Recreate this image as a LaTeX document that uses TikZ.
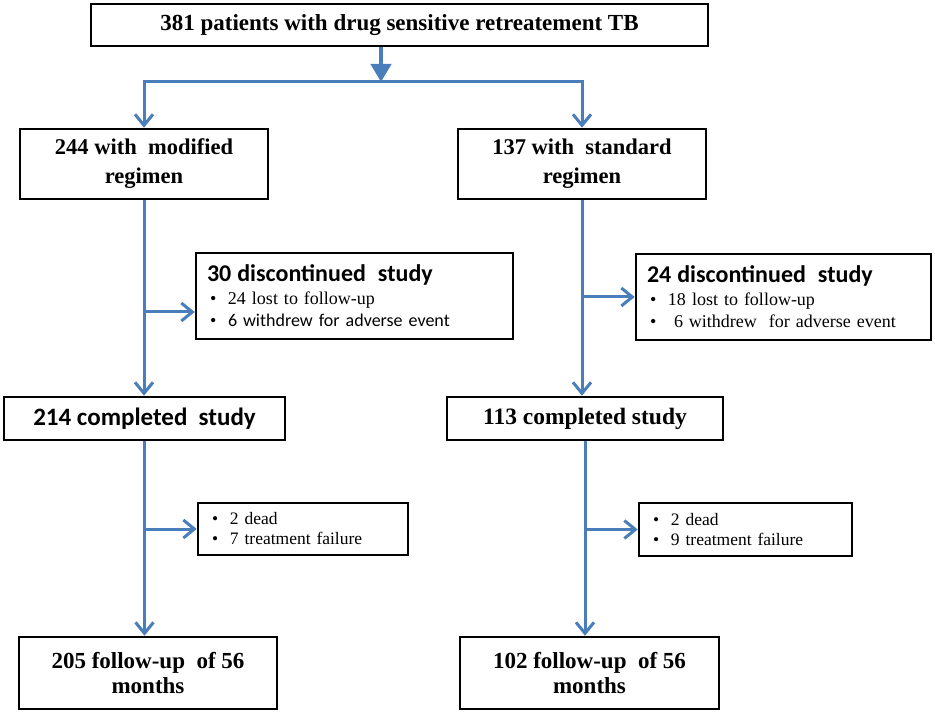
\documentclass[tikz,border=0pt]{standalone}
\usepackage{fontspec}
\usepackage{tikz}
\usetikzlibrary{arrows.meta}
\setmainfont{Liberation Serif}
\newfontfamily\calibri{Carlito}
\definecolor{flowblue}{RGB}{74,126,187}
\newcommand\flowitem[1]{\makebox[18pt][l]{\textbullet}#1}

\begin{document}
\begin{tikzpicture}[x=1pt, y=-1pt,
		box/.style = {draw, line width=2.6pt, inner sep=0pt, align=center},
		note/.style = {box, align=left, inner xsep=11pt, font=\fontsize{18}{22.5}\selectfont},
		arr/.style = {draw=flowblue, line width=3pt, -{Straight Barb[length=11pt, width=18pt]}},
		bigarr/.style = {draw=flowblue, line width=4pt, -{Triangle[length=18pt, width=20pt]}}]
		\useasboundingbox (0,0) rectangle (935,714);
		\node[box, minimum width=617pt, minimum height=42pt, font=\bfseries\fontsize{23}{27}\selectfont] (top) at (399.5,25) {381 patients with drug sensitive retreatement TB};
		\node[box, minimum width=248pt, minimum height=70pt, font=\bfseries\fontsize{22.5}{29}\selectfont] (mod) at (144,164) {244 with\ \ modified\\regimen};
		\node[box, minimum width=248pt, minimum height=70pt, font=\bfseries\fontsize{22.5}{29}\selectfont] (std) at (582,164) {137 with\ \ standard\\regimen};
		\node[note, text width=295pt, minimum height=86pt] (disc1) at (354.5,296) {{\calibri\bfseries\fontsize{24}{22.5}\selectfont 30 discontinued\ \ study}\\
			\hspace*{3pt}\flowitem{24 lost to follow-up}\\
			\hspace*{3pt}\flowitem{\calibri 6 withdrew for adverse event}};
		\node[note, text width=273pt, minimum height=86pt] (disc2) at (783.5,297) {{\calibri\bfseries\fontsize{24}{22.5}\selectfont 24 discontinued\ \ study}\\
			\hspace*{3pt}\flowitem{18 lost to follow-up}\\
			\hspace*{3pt}\flowitem{\ 6 withdrew\ \ for adverse event}};
		\node[box, minimum width=281pt, minimum height=43pt, font=\calibri\bfseries\fontsize{25}{30}\selectfont] (comp1) at (144.5,418.5) {214 completed\ \ study};
		\node[box, minimum width=276pt, minimum height=43pt, font=\bfseries\fontsize{23.5}{28}\selectfont] (comp2) at (585,418.5) {113 completed study};
		\node[note, inner xsep=14pt, text width=182pt, minimum height=52pt, font=\fontsize{17.5}{20}\selectfont] (loss1) at (303,529) {\flowitem{2 dead}\\ \flowitem{7 treatment failure}};
		\node[note, inner xsep=14pt, text width=185pt, minimum height=53pt, font=\fontsize{17.5}{20}\selectfont] (loss2) at (745.5,529.5) {\flowitem{2 dead}\\ \flowitem{9 treatment failure}};
		\node[box, minimum width=258pt, minimum height=72pt, font=\bfseries\fontsize{23}{25}\selectfont] (fu1) at (148,673) {205 follow-up\ \ of 56\\months};
		\node[box, minimum width=259pt, minimum height=72pt, font=\bfseries\fontsize{23}{25}\selectfont] (fu2) at (589.5,673) {102 follow-up\ \ of 56\\months};
		% split of the cohort
		\coordinate (split) at (381,82);
		\draw[bigarr] (top.south -| split) -- (split);
		\draw[arr] (split) -| (mod.north);
		\draw[arr] (split) -| (std.north);
		% modified regimen
		\coordinate (disc1in) at ([yshift=-16pt]disc1.west);
		\draw[arr] (mod.south) -- (mod.south |- comp1.north);
		\draw[arr] (mod.south |- disc1in) -- (disc1in);
		\draw[arr] (comp1.south) -- (comp1.south |- fu1.north);
		\draw[arr] (comp1.south |- loss1.west) -- (loss1.west);
		% standard regimen
		\draw[arr] (std.south) -- (std.south |- comp2.north);
		\draw[arr] (std.south |- disc2.west) -- (disc2.west);
		\draw[arr] (comp2.south) -- (comp2.south |- fu2.north);
		\draw[arr] (comp2.south |- loss2.west) -- (loss2.west);
	\end{tikzpicture}
\end{document}
